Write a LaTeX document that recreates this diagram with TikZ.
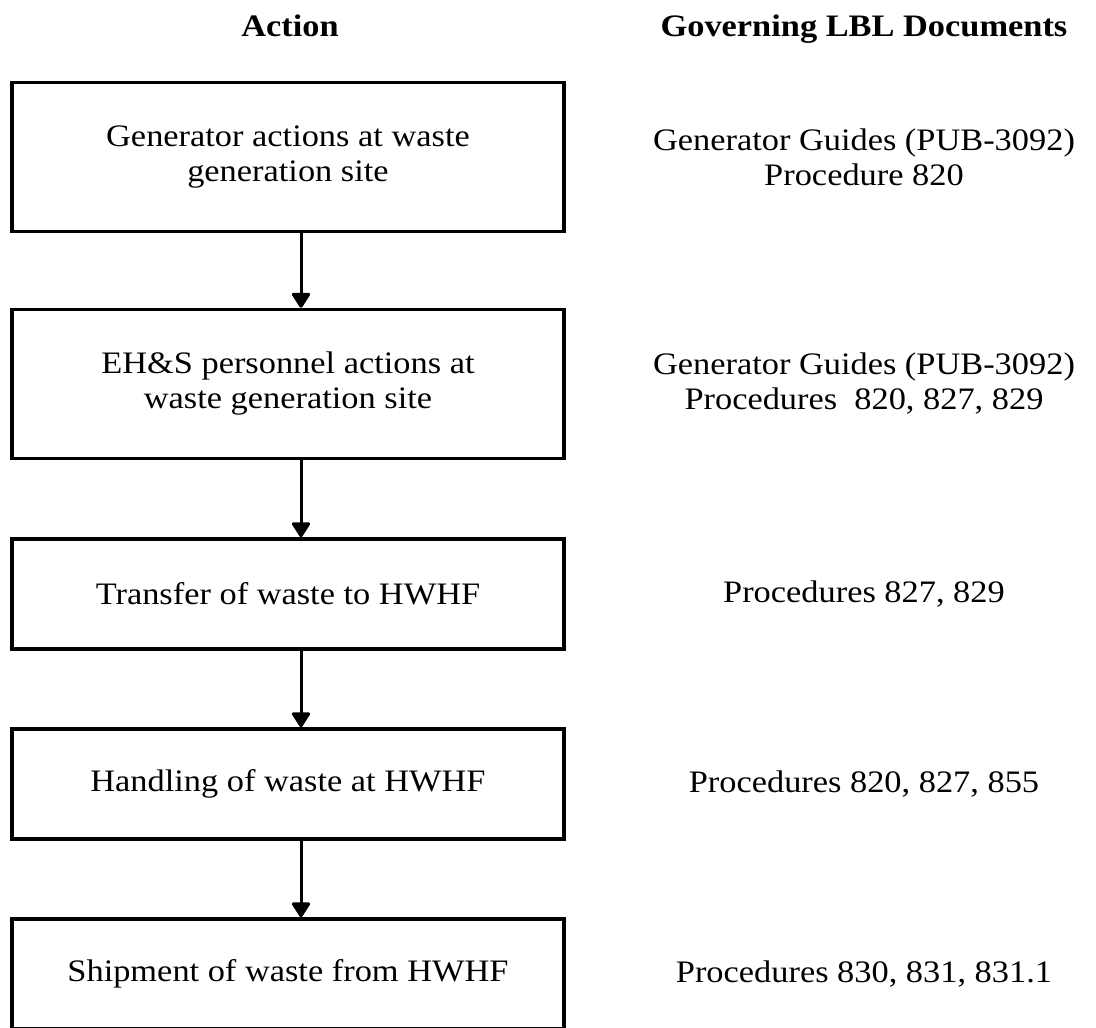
\documentclass[tikz,border=0pt]{standalone}
\usepackage{fontspec}
\setmainfont{Liberation Serif}[FakeStretch=1.1]
\usepackage{tikz}
\usetikzlibrary{arrows.meta, calc}

\tikzset{
  actbox/.style={draw, line width=1.4pt, minimum width=220.8pt, align=center, inner sep=0pt},
  tallbox/.style={actbox, minimum height=59.6pt},
  flatbox/.style={actbox, minimum height=44pt},
  docnote/.style={align=center, inner sep=0pt},
  flow/.style={-{Triangle[width=8pt,length=6.5pt,round]}, line width=1.2pt},
}

\begin{document}
\begin{tikzpicture}[x=0.4pt, y=-0.4pt, font=\fontsize{12.5}{14}\selectfont]
    \useasboundingbox (0,0) rectangle (1096,1028);

    % Headings
    \node[anchor=base, font=\fontsize{12.5}{14}\selectfont\bfseries] (hact) at (290,36) {Action};
    \node[anchor=base, font=\fontsize{12.5}{14}\selectfont\bfseries] (hdoc) at (864,36) {Governing LBL Documents};

    % Action boxes
    \node[tallbox] (gen) at (288,157) {Generator actions at waste\\generation site};
    \node[tallbox] (ehs) at (288,384) {EH\&S personnel actions at\\waste generation site};
    \node[flatbox] (trans) at (288,594) {Transfer of waste to HWHF};
    \node[flatbox] (hand) at (288,784) {Handling of waste at HWHF};
    \node[flatbox] (ship) at (288,974) {Shipment of waste from HWHF};

    % Governing documents
    \node[docnote] (dgen) at (864,157) {Generator Guides (PUB-3092)\\Procedure 820};
    \node[docnote] (dehs) at (864,384) {Generator Guides (PUB-3092)\\Procedures\ \ 820, 827, 829};
    \node[docnote] (dtrans) at (864,594) {Procedures 827, 829};
    \node[docnote] (dhand) at (864,784) {Procedures 820, 827, 855};
    \node[docnote] (dship) at (864,974) {Procedures 830, 831, 831.1};

    % Arrows
    \draw[flow] ($(gen.south)+(13,0)$) -- ($(ehs.north)+(13,0)$);
    \draw[flow] ($(ehs.south)+(13,0)$) -- ($(trans.north)+(13,0)$);
    \draw[flow] ($(trans.south)+(13,0)$) -- ($(hand.north)+(13,0)$);
    \draw[flow] ($(hand.south)+(13,0)$) -- ($(ship.north)+(13,0)$);
\end{tikzpicture}
\end{document}
